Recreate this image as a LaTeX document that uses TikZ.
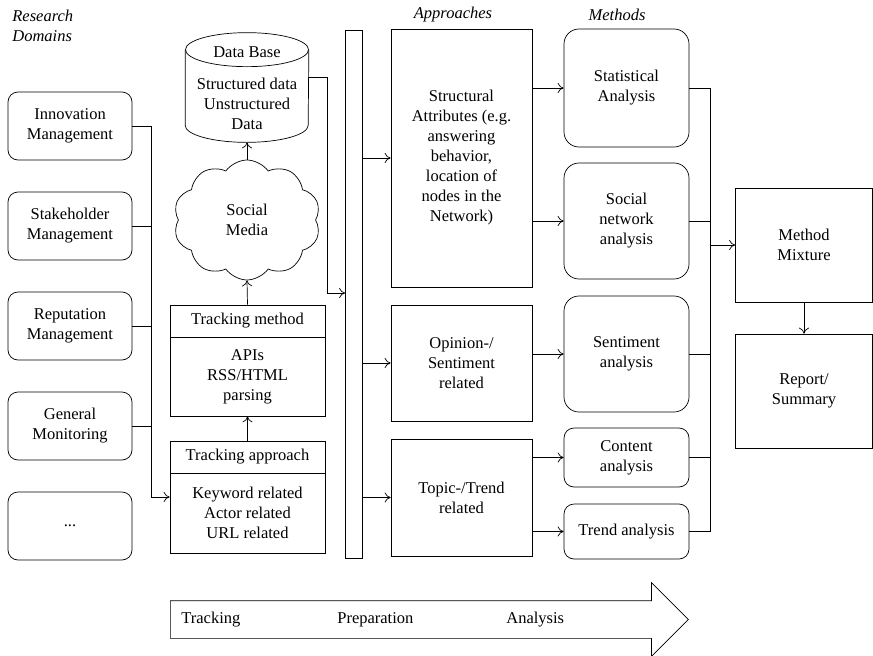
\documentclass[tikz,border=0pt]{standalone}
\usepackage{fontspec}
\setmainfont{Liberation Serif}
\usetikzlibrary{arrows.meta,shapes.symbols,shapes.arrows}

\begin{document}
\begin{tikzpicture}[x=1pt,y=-1pt,line width=0.7pt,font=\fontsize{16.5}{20}\selectfont,
    >={To[length=6pt,width=10pt]},
    every node/.style={align=center,inner sep=0pt},
    dombox/.style={draw,rounded corners=10pt,minimum width=124pt,minimum height=68pt},
    apprbox/.style={draw,minimum width=141pt},
    methbox/.style={draw,rounded corners=15pt,minimum width=125pt},
    resbox/.style={draw,minimum width=137pt,minimum height=114pt},
    trackbox/.style={draw,minimum width=155pt},
    heading/.style={font=\fontsize{16.5}{20}\selectfont\itshape}]
    \useasboundingbox (0,0) rectangle (873,656);

    \node[heading,align=left,anchor=west] (rd) at (12,26) {Research\\Domains};
    \node[heading] (appr) at (453,15) {Approaches};
    \node[heading] (meth) at (617,15) {Methods};

    \node[dombox] (inno)  at (70,126) {Innovation\\Management};
    \node[dombox] (stake) at (70,226) {Stakeholder\\Management};
    \node[dombox] (repu)  at (70,326) {Reputation\\Management};
    \node[dombox] (gen)   at (70,426) {General\\Monitoring};
    \node[dombox] (dots)  at (70,526) {...};

    \node[minimum width=123pt,minimum height=109pt] (db) at (247,87.5) {};
    \draw ([yshift=-17pt]db.north west) -- ([yshift=17pt]db.south west)
        arc[start angle=180,end angle=360,x radius=61.5pt,y radius=17pt]
        -- ([yshift=-17pt]db.north east);
    \draw ([yshift=-17pt]db.north) ellipse [x radius=61.5pt,y radius=17pt];
    \node (db_head) at (247,52) {Data Base};
    \node (db_body) at (247,104) {Structured data\\Unstructured\\Data};
    \node[draw,cloud,cloud puffs=10,cloud puff arc=110,minimum width=147pt,minimum height=120pt] (sm) at (247,220) {Social\\Media};

    \node[trackbox,minimum height=32pt] (tm_head) at (247.5,321) {Tracking method};
    \node[trackbox,minimum height=79pt] (tm_body) at (247.5,376.5) {APIs\\RSS/HTML\\parsing};
    \node[trackbox,minimum height=32pt] (ta_head) at (247.5,457) {Tracking approach};
    \node[trackbox,minimum height=80pt] (ta_body) at (247.5,513) {Keyword related\\Actor related\\URL related};

    \node[draw,minimum width=17pt,minimum height=528pt] (bar) at (354,294) {};

    \node[apprbox,minimum height=258pt] (struct) at (461.5,158) {Structural\\Attributes (e.g.\\answering\\behavior,\\location of\\nodes in the\\Network)};
    \node[apprbox,minimum height=116pt] (opin) at (461.5,363) {Opinion-/\\Sentiment\\related};
    \node[apprbox,minimum height=117pt] (topic) at (461.5,497.5) {Topic-/Trend\\related};

    \node[methbox,minimum height=118pt] (stat) at (626.5,88) {Statistical\\Analysis};
    \node[methbox,minimum height=116pt] (sna) at (626.5,221) {Social\\network\\analysis};
    \node[methbox,minimum height=116pt] (senti) at (626.5,354) {Sentiment\\analysis};
    \node[methbox,rounded corners=10pt,minimum height=59pt] (cont) at (626.5,457.5) {Content\\analysis};
    \node[methbox,rounded corners=10pt,minimum height=55pt] (trend) at (626.5,531.5) {Trend analysis};

    \node[resbox] (mix) at (804,245) {Method\\Mixture};
    \node[resbox] (rep) at (804,391) {Report/\\Summary};

    \node[draw,single arrow,single arrow head extend=18pt,inner xsep=0pt,inner ysep=18.5pt,minimum height=518pt,anchor=tail] (flow) at (170,619.5) {};
    \node[anchor=west] (f_track) at (181,620) {Tracking};
    \node[anchor=west] (f_prep) at (337,620) {Preparation};
    \node[anchor=west] (f_ana) at (506,620) {Analysis};

    \coordinate (lbus) at (151,497);
    \coordinate (dbturn) at (327,293);
    \coordinate (rbus) at (710,245);

    \draw[->] (inno.east) -| (lbus) -- (lbus -| ta_body.west);
    \draw (stake.east) -- (stake.east -| lbus);
    \draw (repu.east) -- (repu.east -| lbus);
    \draw (gen.east) -- (gen.east -| lbus);

    \draw[->] (ta_head.north) -- (tm_body.south);
    \draw[->] (tm_head.north) -- (sm.south);
    \draw[->] (sm.north) -- (db.south);
    \draw[->] (db_body.north -| db.east) -| (dbturn) -- (dbturn -| bar.west);

    \draw[->] (struct.west -| bar.east) -- (struct.west);
    \draw[->] (opin.west -| bar.east) -- (opin.west);
    \draw[->] (topic.west -| bar.east) -- (topic.west);

    \draw[->] (stat.west -| struct.east) -- (stat.west);
    \draw[->] (sna.west -| struct.east) -- (sna.west);
    \draw[->] (senti.west -| opin.east) -- (senti.west);
    \draw[->] (cont.west -| topic.east) -- (cont.west);
    \draw[->] (trend.west -| topic.east) -- (trend.west);

    \draw (stat.east) -| (rbus |- trend.east) -- (trend.east);
    \draw (sna.east) -- (sna.east -| rbus);
    \draw (senti.east) -- (senti.east -| rbus);
    \draw (cont.east) -- (cont.east -| rbus);
    \draw[->] (rbus) -- (mix.west);
    \draw[->] (mix.south) -- (rep.north);
\end{tikzpicture}
\end{document}
